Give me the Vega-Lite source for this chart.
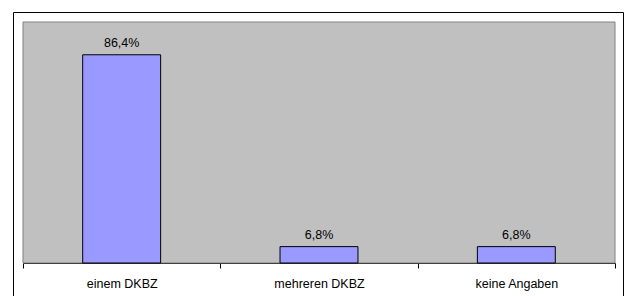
{
  "$schema": "https://vega.github.io/schema/vega-lite/v6.json",
  "width": 610,
  "height": 286,
  "autosize": "none",
  "padding": {"left": 13, "top": 12, "right": 1, "bottom": 0},
  "background": "white",
  "config": {
    "locale": {"number": {"decimal": ",", "thousands": ".", "grouping": [3], "currency": ["", " €"]}},
    "view": {"stroke": "black", "strokeWidth": 1, "fill": "white"},
    "font": "Liberation Sans"
  },
  "data": {
    "values": [
      {"cat": "einem DKBZ", "share": 0.864},
      {"cat": "mehreren DKBZ", "share": 0.068},
      {"cat": "keine Angaben", "share": 0.068}
    ]
  },
  "resolve": {"scale": {"x": "independent"}},
  "layer": [
    {
      "data": {"values": [{"area": "plot"}]},
      "mark": {"type": "rect", "fill": "#C0C0C0", "stroke": "#808080", "strokeWidth": 1},
      "encoding": {
        "x": {"datum": 0, "type": "quantitative", "scale": {"domain": [0, 1], "range": [10, 602]}, "axis": null},
        "x2": {"datum": 1},
        "y": {"datum": 0, "type": "quantitative", "scale": {"domain": [0, 1], "range": [251, 10]}, "axis": null},
        "y2": {"datum": 1}
      }
    },
    {
      "mark": {"type": "bar", "fill": "#9999FF", "stroke": "#000000", "strokeWidth": 1},
      "encoding": {
        "x": {
          "field": "cat", "type": "nominal", "sort": null,
          "scale": {"range": [10, 602], "paddingInner": 0.605, "paddingOuter": 0.3025},
          "axis": null
        },
        "y": {"field": "share", "type": "quantitative", "scale": {"domain": [0, 1], "range": [251, 10]}, "axis": null}
      }
    },
    {
      "mark": {"type": "text", "baseline": "alphabetic", "dy": -8, "fontSize": 12.5, "font": "Liberation Sans", "color": "#000000"},
      "encoding": {
        "x": {
          "field": "cat", "type": "nominal", "sort": null,
          "scale": {"range": [10, 602], "paddingInner": 0, "paddingOuter": 0},
          "axis": {
            "title": null, "orient": "bottom", "offset": -35, "labelAngle": 0,
            "domainColor": "#000000", "tickColor": "#000000", "tickSize": 5, "tickBand": "extent",
            "labelFontSize": 12.5, "labelColor": "#000000", "labelPadding": 9, "labelFont": "Liberation Sans", "grid": false
          }
        },
        "y": {"field": "share", "type": "quantitative", "scale": {"domain": [0, 1], "range": [251, 10]}, "axis": null},
        "text": {"field": "share", "type": "quantitative", "format": ".1%"}
      }
    }
  ]
}
